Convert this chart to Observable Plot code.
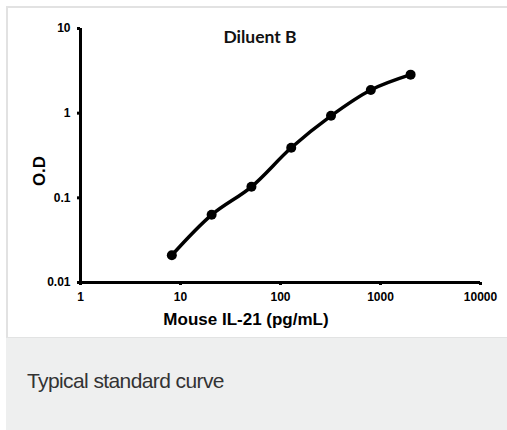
<!DOCTYPE html>
<html>
<head>
<meta charset="utf-8">
<script src="https://cdn.jsdelivr.net/npm/d3@7"></script>
<script src="https://cdn.jsdelivr.net/npm/@observablehq/plot@0.6"></script>
<style>
  html, body { margin: 0; padding: 0; background: #fff; }
  body { width: 507px; height: 430px; overflow: hidden; position: relative; font-family: "Liberation Sans", Arial, sans-serif; }
  #card { position: absolute; left: 6px; top: 6px; width: 520px; height: 329px; border-top: 2px solid #e2e2e2; border-left: 2px solid #e2e2e2; background: #fff; }
  #chart { position: absolute; left: 0; top: 0; }
  #title { position: absolute; left: 260px; top: 36px; transform: translate(-50%, -50%); font-family: Lato, "Open Sans", sans-serif; font-weight: bold; font-size: 17.5px; color: #111; white-space: nowrap; }
  #xlabel { position: absolute; left: 246px; top: 320px; transform: translate(-50%, -50%); font-weight: bold; font-size: 17px; color: #000; white-space: nowrap; }
  #ylabel { position: absolute; left: 40px; top: 171px; transform: translate(-50%, -50%) rotate(-90deg); font-weight: bold; font-size: 17px; color: #000; white-space: nowrap; }
  #caption { position: absolute; left: 6px; top: 337px; width: 520px; height: 92px; background: #eeefef; border-top: 1px solid #e2e3e3; }
  #caption span { position: absolute; left: 21px; top: 32px; line-height: 21px; font-size: 21px; letter-spacing: -0.6px; color: #333; white-space: nowrap; }
</style>
</head>
<body>
<div id="card"></div>
<div id="chart"></div>
<div id="title"></div>
<div id="xlabel"></div>
<div id="ylabel"></div>
<div id="caption"><span></span></div>
<script>
const chartTitle = "Diluent B";
const xAxisLabel = "Mouse IL-21 (pg/mL)";
const yAxisLabel = "O.D";
const captionText = "Typical standard curve";

const concentrations = [8.19, 20.48, 51.2, 128, 320, 800, 2000];
const odValues = [0.021, 0.063, 0.135, 0.39, 0.93, 1.88, 2.85];

const xTicks = [1, 10, 100, 1000, 10000];
const xTickLabels = ["1", "10", "100", "1000", "10000"];
const yTicks = [0.01, 0.1, 1, 10];
const yTickLabels = ["0.01", "0.1", "1", "10"];

const data = concentrations.map((c, i) => ({conc: c, od: odValues[i]}));
const xFmt = new Map(xTicks.map((t, i) => [t, xTickLabels[i]]));
const yFmt = new Map(yTicks.map((t, i) => [t, yTickLabels[i]]));

const chart = Plot.plot({
  width: 507,
  height: 337,
  marginLeft: 80,
  marginRight: 27,
  marginTop: 28,
  marginBottom: 55,
  style: {background: "transparent", fontFamily: "'Liberation Sans', Arial, sans-serif", fontSize: "12px", fontWeight: "bold", color: "#000"},
  x: {type: "log", domain: [xTicks[0], xTicks[xTicks.length - 1]]},
  y: {type: "log", domain: [yTicks[0], yTicks[yTicks.length - 1]]},
  marks: [
    Plot.axisX({ticks: xTicks, tickFormat: d => xFmt.get(d), tickSize: 3, tickPadding: 7, strokeWidth: 3, label: null}),
    Plot.axisY({ticks: yTicks, tickFormat: d => yFmt.get(d), tickSize: 3, tickPadding: 7, strokeWidth: 3, label: null}),
    Plot.ruleX([xTicks[0]], {strokeWidth: 3}),
    Plot.ruleY([yTicks[0]], {strokeWidth: 3}),
    Plot.line(data, {x: "conc", y: "od", curve: "catmull-rom", stroke: "black", strokeWidth: 3.5}),
    Plot.dot(data, {x: "conc", y: "od", r: 5, fill: "black", stroke: "none"})
  ]
});
document.getElementById("chart").append(chart);
document.getElementById("title").textContent = chartTitle;
document.getElementById("xlabel").textContent = xAxisLabel;
document.getElementById("ylabel").textContent = yAxisLabel;
document.querySelector("#caption span").textContent = captionText;
</script>
</body>
</html>
